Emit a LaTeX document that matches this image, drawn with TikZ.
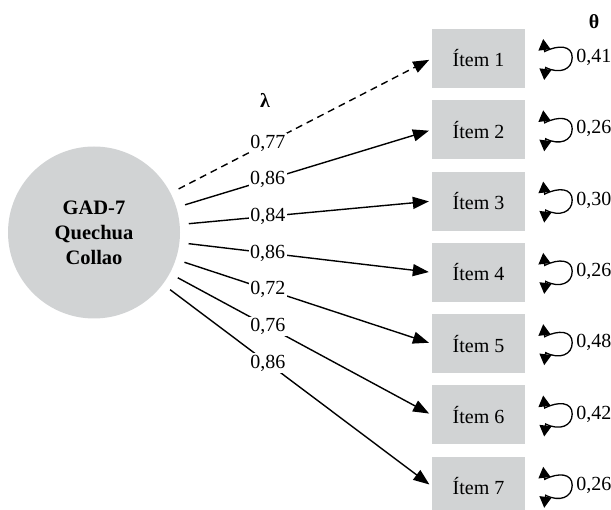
\documentclass[tikz,border=0pt]{standalone}
\usepackage{fontspec}
\setmainfont{Liberation Serif}
\usetikzlibrary{arrows.meta,calc}
\definecolor{boxgray}{RGB}{209,211,212}
\begin{document}
\begin{tikzpicture}[x=1pt,y=-1pt,
  latent/.style={circle,fill=boxgray,minimum size=172pt,inner sep=0pt,align=center,font=\fontsize{20.5}{25}\selectfont\bfseries},
  item/.style={rectangle,fill=boxgray,minimum width=93pt,minimum height=59pt,inner sep=0pt,font=\fontsize{20}{24}\selectfont},
  load/.style={line width=1.4pt,-{Triangle[length=16pt,width=12pt]},shorten <=9pt,shorten >=3pt},
  lab/.style={fill=white,inner sep=1.5pt,font=\fontsize{20}{24}\selectfont},
  cov/.style={line width=1.3pt,{Triangle[length=11pt,width=12pt]}-{Triangle[length=11pt,width=12pt]}},
  covlab/.style={anchor=west,inner sep=0pt,font=\fontsize{20}{24}\selectfont},
  greek/.style={font=\fontsize{20}{24}\selectfont\bfseries}
]
\useasboundingbox (0,0) rectangle (611,510);

\node[latent] (c) at (94,232.5) {GAD-7\\Quechua\\Collao};

\node[item] (i1) at (478.5,58.5) {Ítem 1};
\node[item] (i2) at (478.5,129.8) {Ítem 2};
\node[item] (i3) at (478.5,201.1) {Ítem 3};
\node[item] (i4) at (478.5,272.4) {Ítem 4};
\node[item] (i5) at (478.5,343.7) {Ítem 5};
\node[item] (i6) at (478.5,415) {Ítem 6};
\node[item] (i7) at (478.5,486.3) {Ítem 7};

\node[greek] (lam) at (265,100) {λ};
\node[greek] (th) at (594,22) {θ};

\draw[load,dash pattern=on 7pt off 5pt] (c) -- (i1.west) node[lab,pos=0.372] (l1) {0,77};
\draw[load] (c) -- (i2.west) node[lab,pos=0.357] (l2) {0,86};
\draw[load] (c) -- (i3.west) node[lab,pos=0.349] (l3) {0,84};
\draw[load] (c) -- (i4.west) node[lab,pos=0.349] (l4) {0,86};
\draw[load] (c) -- (i5.west) node[lab,pos=0.359] (l5) {0,72};
\draw[load] (c) -- (i6.west) node[lab,pos=0.374] (l6) {0,76};
\draw[load] (c) -- (i7.west) node[lab,pos=0.39] (l7) {0,86};

\foreach \k/\v in {1/{0,41},2/{0,26},3/{0,30},4/{0,26},5/{0,48},6/{0,42},7/{0,26}}{
  \coordinate (t\k) at ($(i\k.east)+(18,-19.5)$);
  \coordinate (u\k) at ($(t\k)+(1.5,12.5)$);
  \coordinate (r\k) at ($(i\k.east)+(47,-1)$);
  \coordinate (b\k) at ($(i\k.east)+(19,21.5)$);
  \coordinate (w\k) at ($(b\k)+(1.5,-12.5)$);
  \draw[cov] (t\k) -- (u\k) .. controls +(14,-7) and +(0,-12) .. (r\k) .. controls +(0,12) and +(14,7) .. (w\k) -- (b\k);
  \node[covlab] (v\k) at ($(r\k)+(4,0)$) {\v};
}
\end{tikzpicture}
\end{document}
